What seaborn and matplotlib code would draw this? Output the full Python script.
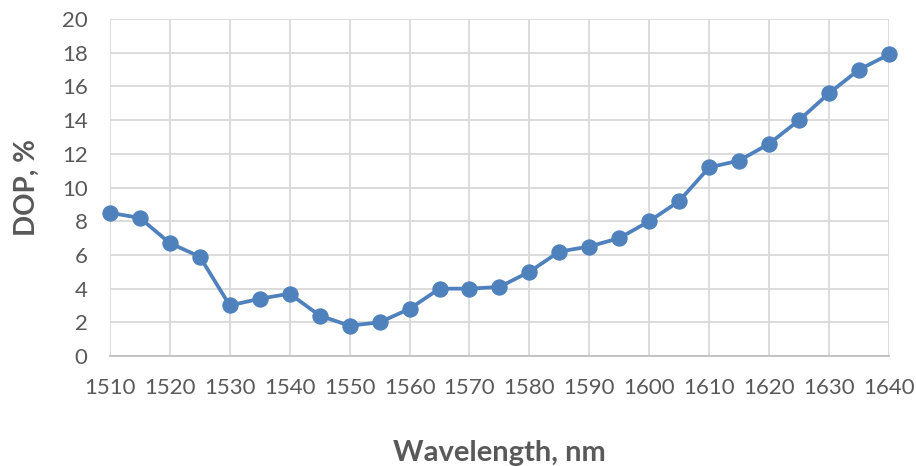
import pandas as pd
import matplotlib
matplotlib.use("Agg")
import matplotlib.pyplot as plt
import seaborn as sns

# ==== DATA ====
wavelength = [1510, 1515, 1520, 1525, 1530, 1535, 1540, 1545, 1550, 1555,
              1560, 1565, 1570, 1575, 1580, 1585, 1590, 1595, 1600, 1605,
              1610, 1615, 1620, 1625, 1630, 1635, 1640]
dop = [8.5, 8.2, 6.7, 5.9, 3.0, 3.4, 3.7, 2.4, 1.8, 2.0,
       2.8, 4.0, 4.0, 4.1, 5.0, 6.2, 6.5, 7.0, 8.0, 9.2,
       11.2, 11.6, 12.6, 14.0, 15.6, 17.0, 17.9]
x_ticks = list(range(1510, 1641, 10))
y_ticks = list(range(0, 21, 2))

df = pd.DataFrame({"wavelength": wavelength, "dop": dop})

# ==== STYLE ====
sns.set_style("white")
plt.rcParams['font.family'] = ['Lato', 'DejaVu Sans']

fig = plt.figure(figsize=(9.16, 4.66), dpi=100)
ax = fig.add_axes([0.120, 0.236, 0.8505, 0.723])

sns.lineplot(data=df, x="wavelength", y="dop", ax=ax, color="#4F81BD",
             linewidth=2.7, marker="o", markersize=11,
             markeredgecolor="#4F81BD", zorder=3, clip_on=False)

ax.set_xlim(1510, 1640)
ax.set_ylim(0, 20)
ax.set_xticks(x_ticks)
ax.set_yticks(y_ticks)
ax.grid(True, color="#D9D9D9", linewidth=1.3)
ax.set_axisbelow(True)

for side in ["top", "right", "left"]:
    ax.spines[side].set_visible(False)
ax.spines["bottom"].set_color("#BFBFBF")
ax.spines["bottom"].set_linewidth(1.3)

ax.tick_params(axis="both", length=0, labelsize=16, colors="#595959")
ax.tick_params(axis="y", pad=16)
ax.tick_params(axis="x", pad=16)

ax.set_xlabel("Wavelength, nm", fontsize=21, fontweight="bold", color="#595959", labelpad=30)
ax.set_ylabel("DOP, %", fontsize=20, fontweight="bold", color="#595959", labelpad=16)

plt.savefig("out.png", dpi=100)
